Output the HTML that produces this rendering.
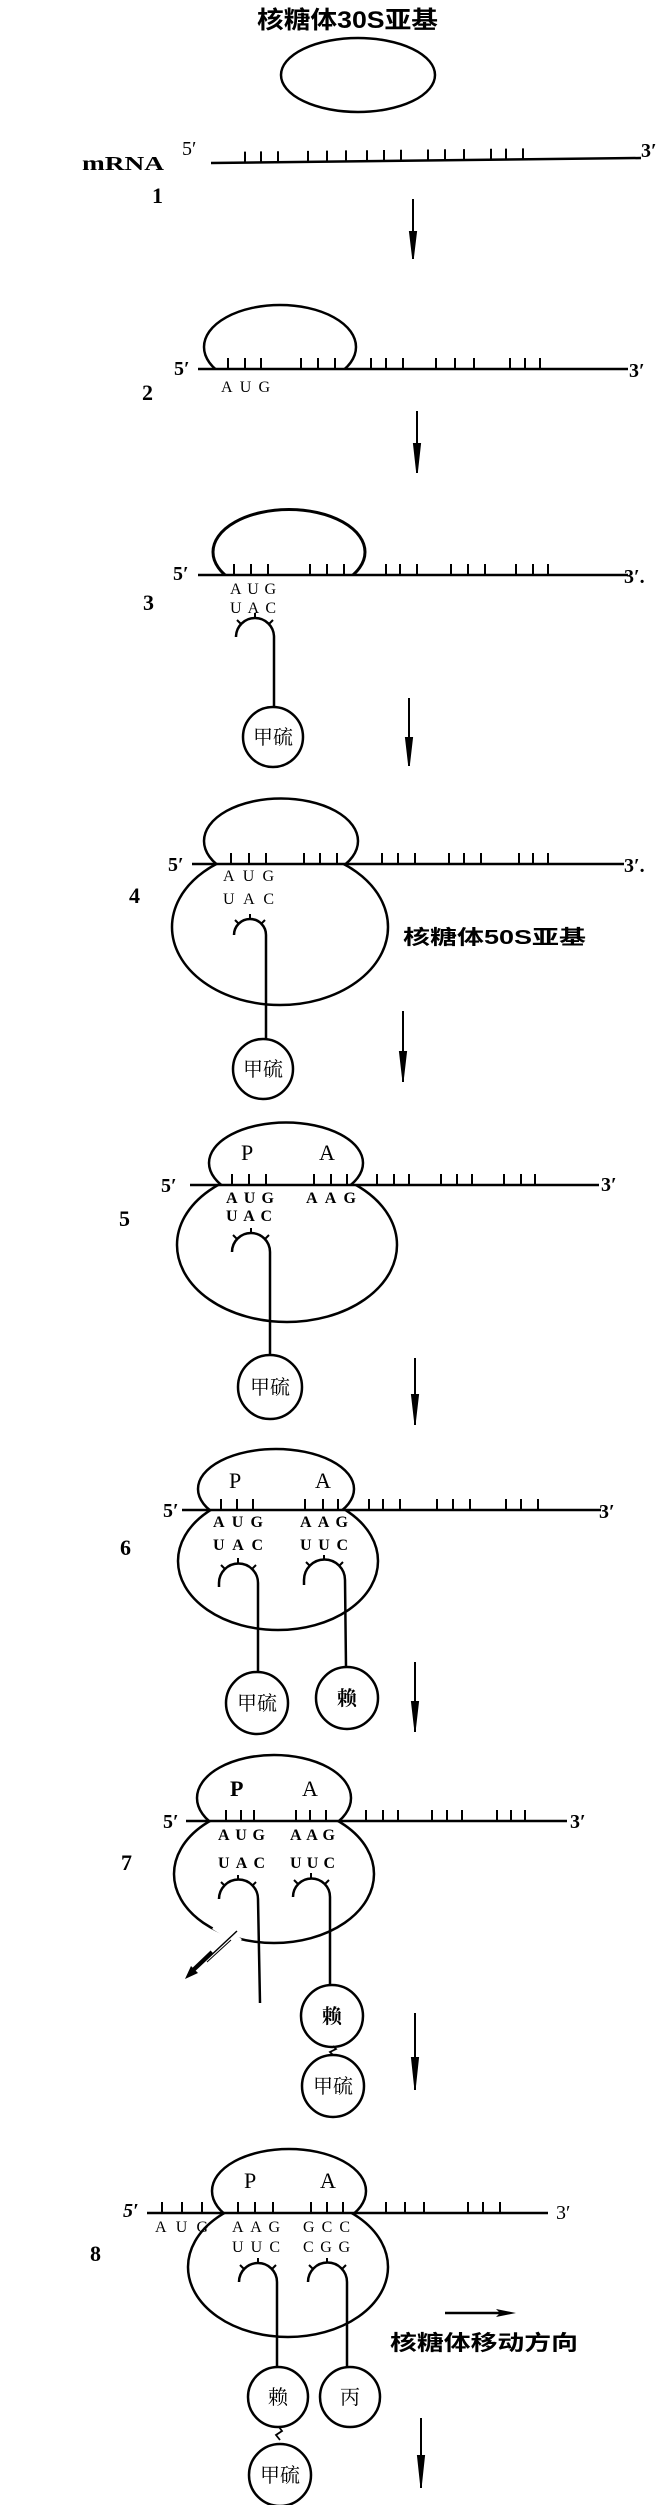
<!DOCTYPE html>
<html><head><meta charset="utf-8"><style>
html,body{margin:0;padding:0;background:#fff}
svg{display:block}
text{font-family:"Liberation Serif","Noto Serif CJK SC",serif;fill:#000}
.b{font-weight:bold}
.cj{font-family:"Liberation Sans","Noto Sans CJK SC",sans-serif;font-weight:bold}
.cd{font-size:16px}
.pa{font-size:22px}
.num{font-size:22px;font-weight:bold}
.pr{font-size:20px;font-weight:bold}
.ci{font-family:"Liberation Serif","Noto Serif CJK SC",serif;font-size:20px}
</style></head><body>
<svg width="661" height="2505" viewBox="0 0 661 2505" xmlns="http://www.w3.org/2000/svg">
<defs>
<clipPath id="a2"><rect x="0" y="0" width="661" height="369"/></clipPath>
<clipPath id="a3"><rect x="0" y="400" width="661" height="175"/></clipPath>
<clipPath id="a4"><rect x="0" y="700" width="661" height="164"/></clipPath>
<clipPath id="b4"><rect x="0" y="864" width="661" height="200"/></clipPath>
<clipPath id="a5"><rect x="0" y="1100" width="661" height="85"/></clipPath>
<clipPath id="b5"><rect x="0" y="1185" width="661" height="200"/></clipPath>
<clipPath id="a6"><rect x="0" y="1400" width="661" height="110"/></clipPath>
<clipPath id="b6"><rect x="0" y="1510" width="661" height="200"/></clipPath>
<clipPath id="a7"><rect x="0" y="1700" width="661" height="121"/></clipPath>
<clipPath id="b7"><rect x="0" y="1821" width="661" height="200"/></clipPath>
<clipPath id="a8"><rect x="0" y="2100" width="661" height="113"/></clipPath>
<clipPath id="b8"><rect x="0" y="2213" width="661" height="200"/></clipPath>
</defs>
<g fill="none" stroke="#000" stroke-width="2.5">
<ellipse cx="358" cy="75" rx="77" ry="37"/>
<path d="M211 163 L641 158"/>
<path stroke-width="2" d="M245 162.6v-11M261 162.4v-11M278 162.2v-11M308 161.9v-11M327 161.6v-11M346 161.4v-11M367 161.2v-11M384 161v-11M401 160.8v-11M428 160.5v-11M445 160.3v-11M464 160.1v-11M491 159.7v-11M506 159.6v-11M523 159.4v-11"/>
<ellipse cx="280" cy="347" rx="76" ry="42" clip-path="url(#a2)"/>
<path d="M198 369 H628"/>
<path stroke-width="2" d="M228 369v-11M245 369v-11M261 369v-11M301 369v-11M318 369v-11M335 369v-11M371 369v-11M386 369v-11M403 369v-11M436 369v-11M455 369v-11M474 369v-11M510 369v-11M525 369v-11M540 369v-11"/>
<ellipse cx="289" cy="552" rx="76" ry="42.5" clip-path="url(#a3)" stroke-width="3"/>
<path d="M198 575 H628"/>
<path stroke-width="2" d="M234 575v-11M251 575v-11M268 575v-11M310 575v-11M327 575v-11M344 575v-11M386 575v-11M400 575v-11M417 575v-11M451 575v-11M468 575v-11M485 575v-11M516 575v-11M533 575v-11M548 575v-11"/>
<path d="M236 637 A19 19 0 0 1 274 637 V707"/>
<path stroke-width="2" d="M241 624 l-4 -4 M255 618 v-5 M269 624 l4 -4"/>
<circle cx="273" cy="737" r="30"/>
<ellipse cx="281" cy="841" rx="77" ry="42.5" clip-path="url(#a4)"/>
<ellipse cx="280" cy="927" rx="108" ry="78" clip-path="url(#b4)"/>
<path d="M192 864 H624"/>
<path stroke-width="2" d="M231 864v-11M249 864v-11M266 864v-11M304 864v-11M320 864v-11M337 864v-11M382 864v-11M398 864v-11M415 864v-11M449 864v-11M464 864v-11M481 864v-11M519 864v-11M533 864v-11M548 864v-11"/>
<path d="M234 935 A16 16 0 0 1 266 935 V1039"/>
<path stroke-width="2" d="M239 924 l-4 -4 M250 919 v-5 M261 924 l4 -4"/>
<circle cx="263" cy="1069" r="30"/>
<ellipse cx="286" cy="1163" rx="77" ry="40.5" clip-path="url(#a5)"/>
<ellipse cx="287" cy="1245" rx="110" ry="77" clip-path="url(#b5)"/>
<path d="M190 1185 H599"/>
<path stroke-width="2" d="M232 1185v-11M249 1185v-11M266 1185v-11M314 1185v-11M331 1185v-11M347 1185v-11M377 1185v-11M394 1185v-11M409 1185v-11M441 1185v-11M457 1185v-11M472 1185v-11M504 1185v-11M521 1185v-11M535 1185v-11"/>
<path d="M232 1252 A19 19 0 0 1 270 1252 V1355"/>
<path stroke-width="2" d="M237 1239 l-4 -4 M251 1233 v-5 M265 1239 l4 -4"/>
<circle cx="270" cy="1387" r="32"/>
<ellipse cx="276" cy="1489" rx="78" ry="40" clip-path="url(#a6)"/>
<ellipse cx="278" cy="1561" rx="100" ry="69" clip-path="url(#b6)"/>
<path d="M182 1510 H601"/>
<path stroke-width="2" d="M221 1510v-11M237 1510v-11M253 1510v-11M305 1510v-11M323 1510v-11M338 1510v-11M369 1510v-11M383 1510v-11M400 1510v-11M437 1510v-11M453 1510v-11M470 1510v-11M506 1510v-11M521 1510v-11M538 1510v-11"/>
<path d="M219 1587 V1583 A19.5 19.5 0 0 1 258 1583 V1672"/>
<path stroke-width="2" d="M225 1569 l-4 -4 M238 1563 v-5 M252 1569 l4 -4"/>
<path d="M304 1585 V1580 A20.5 20.5 0 0 1 345 1580 L346 1667"/>
<path stroke-width="2" d="M310 1566 l-4 -4 M324 1560 v-5 M339 1566 l4 -4"/>
<circle cx="257" cy="1703" r="31"/>
<circle cx="347" cy="1698" r="31"/>
<ellipse cx="274" cy="1798" rx="77" ry="43" clip-path="url(#a7)"/>
<ellipse cx="274" cy="1874" rx="100" ry="69" clip-path="url(#b7)"/>
<path d="M186 1821 H567"/>
<path stroke-width="2" d="M226 1821v-11M241 1821v-11M254 1821v-11M296 1821v-11M310 1821v-11M326 1821v-11M366 1821v-11M383 1821v-11M398 1821v-11M432 1821v-11M447 1821v-11M462 1821v-11M497 1821v-11M511 1821v-11M525 1821v-11"/>
<path d="M219 1898 V1899 A19.5 19.5 0 0 1 258 1899 L260 2003"/>
<path stroke-width="2" d="M225 1886 l-4 -4 M238 1880 v-5 M252 1886 l4 -4"/>
<path d="M293 1897 A18.5 18.5 0 0 1 330 1897 V1985"/>
<path stroke-width="2" d="M298 1884 l-4 -4 M311 1878 v-5 M325 1884 l4 -4"/>
<circle cx="332" cy="2016" r="31"/>
<path stroke-width="1.8" d="M333 2046 l3 3 l-6 3 l3 3"/>
<circle cx="333" cy="2086" r="31"/>
<ellipse cx="289" cy="2191" rx="77" ry="42" clip-path="url(#a8)"/>
<ellipse cx="288" cy="2267" rx="100" ry="70" clip-path="url(#b8)"/>
<path d="M147 2213 H548"/>
<path stroke-width="2" d="M162 2213v-11M182 2213v-11M202 2213v-11M238 2213v-11M255 2213v-11M273 2213v-11M311 2213v-11M327 2213v-11M343 2213v-11M386 2213v-11M405 2213v-11M424 2213v-11M468 2213v-11M483 2213v-11M500 2213v-11"/>
<path d="M239 2282 A19 19 0 0 1 277 2282 V2367"/>
<path stroke-width="2" d="M244 2269 l-4 -4 M258 2263 v-5 M272 2269 l4 -4"/>
<path d="M308 2282 A19.5 19.5 0 0 1 347 2282 V2367"/>
<path stroke-width="2" d="M313 2269 l-4 -4 M327 2263 v-5 M342 2269 l4 -4"/>
<circle cx="278" cy="2397" r="30"/>
<circle cx="350" cy="2397" r="30"/>
<path stroke-width="1.8" d="M279 2427 l3 4 l-6 4 l4 5"/>
<circle cx="280" cy="2475" r="31"/>
<path d="M445 2313 H505"/>
</g>
<path d="M214 1926 L240 1942" stroke="#fff" stroke-width="7"/>
<path d="M237 1931 L190 1975" stroke="#000" stroke-width="1.5"/>
<path d="M231 1940 L207 1962" stroke="#000" stroke-width="1"/>
<path d="M212 1952 L190 1973" stroke="#000" stroke-width="4"/>
<polygon points="185,1979 191,1966 198,1973" fill="#000"/>
<polygon points="516,2313 496,2309 500,2313 496,2317" fill="#000"/>
<g stroke="#000" stroke-width="2" fill="#000">
<path d="M413 199 V259"/><polygon points="410,232 416,232 413,257"/>
<path d="M417 411 V473"/><polygon points="414,444 420,444 417,471"/>
<path d="M409 698 V766"/><polygon points="406,738 412,738 409,764"/>
<path d="M403 1011 V1082"/><polygon points="400,1052 406,1052 403,1078"/>
<path d="M415 1358 V1425"/><polygon points="412,1395 418,1395 415,1421"/>
<path d="M415 1662 V1732"/><polygon points="412,1702 418,1702 415,1728"/>
<path d="M415 2013 V2090"/><polygon points="412,2058 418,2058 415,2086"/>
<path d="M421 2418 V2488"/><polygon points="418,2456 424,2456 421,2484"/>
</g>
<text x="257" y="28" class="cj" font-size="24" textLength="181" lengthAdjust="spacingAndGlyphs">核糖体30S亚基</text>
<text x="82" y="170" class="b" font-size="20" textLength="82" lengthAdjust="spacingAndGlyphs">mRNA</text>
<text x="182" y="155" font-size="20">5′</text>
<text x="641" y="157" class="pr">3′</text>
<text x="152" y="203" class="num">1</text>
<text x="174" y="375" class="pr">5′</text>
<text x="629" y="377" class="pr">3′</text>
<text x="221" y="392" class="cd" textLength="49">AUG</text>
<text x="142" y="400" class="num">2</text>
<text x="173" y="580" class="pr">5′</text>
<text x="624" y="583" class="pr">3′.</text>
<text x="230" y="594" class="cd" textLength="46">AUG</text>
<text x="230" y="613" class="cd" textLength="46">UAC</text>
<text x="143" y="610" class="num">3</text>
<text x="253" y="744" class="ci">甲硫</text>
<text x="168" y="871" class="pr">5′</text>
<text x="624" y="872" class="pr">3′.</text>
<text x="223" y="881" class="cd" textLength="51">AUG</text>
<text x="223" y="904" class="cd" textLength="51">UAC</text>
<text x="129" y="903" class="num">4</text>
<text x="403" y="944" class="cj" font-size="20" textLength="183" lengthAdjust="spacingAndGlyphs">核糖体50S亚基</text>
<text x="243" y="1076" class="ci">甲硫</text>
<text x="241" y="1160" class="pa">P</text>
<text x="319" y="1160" class="pa">A</text>
<text x="161" y="1192" class="pr">5′</text>
<text x="601" y="1191" class="pr">3′</text>
<text x="226" y="1203" class="cd b" textLength="48">AUG</text>
<text x="306" y="1203" class="cd b" textLength="50">AAG</text>
<text x="226" y="1221" class="cd b" textLength="46">UAC</text>
<text x="119" y="1226" class="num">5</text>
<text x="250" y="1394" class="ci">甲硫</text>
<text x="229" y="1488" class="pa">P</text>
<text x="315" y="1488" class="pa">A</text>
<text x="163" y="1517" class="pr">5′</text>
<text x="599" y="1518" class="pr">3′</text>
<text x="213" y="1527" class="cd b" textLength="50">AUG</text>
<text x="300" y="1527" class="cd b" textLength="48">AAG</text>
<text x="213" y="1550" class="cd b" textLength="50">UAC</text>
<text x="300" y="1550" class="cd b" textLength="48">UUC</text>
<text x="120" y="1555" class="num">6</text>
<text x="237" y="1710" class="ci">甲硫</text>
<text x="337" y="1705" class="ci b">赖</text>
<text x="230" y="1796" class="pa b">P</text>
<text x="302" y="1796" class="pa">A</text>
<text x="163" y="1828" class="pr">5′</text>
<text x="570" y="1828" class="pr">3′</text>
<text x="218" y="1840" class="cd b" textLength="47">AUG</text>
<text x="290" y="1840" class="cd b" textLength="45">AAG</text>
<text x="218" y="1868" class="cd b" textLength="47">UAC</text>
<text x="290" y="1868" class="cd b" textLength="45">UUC</text>
<text x="121" y="1870" class="num">7</text>
<text x="322" y="2023" class="ci b">赖</text>
<text x="313" y="2093" class="ci">甲硫</text>
<text x="244" y="2188" class="pa">P</text>
<text x="320" y="2188" class="pa">A</text>
<text x="123" y="2217" class="pr" font-style="italic">5′</text>
<text x="556" y="2219" font-size="20">3′</text>
<text x="155" y="2232" class="cd" textLength="53">AUG</text>
<text x="232" y="2232" class="cd" textLength="48">AAG</text>
<text x="303" y="2232" class="cd" textLength="47">GCC</text>
<text x="232" y="2252" class="cd" textLength="48">UUC</text>
<text x="303" y="2252" class="cd" textLength="47">CGG</text>
<text x="90" y="2261" class="num">8</text>
<text x="390" y="2350" class="cj" font-size="21" textLength="188" lengthAdjust="spacingAndGlyphs">核糖体移动方向</text>
<text x="268" y="2404" class="ci">赖</text>
<text x="340" y="2404" class="ci">丙</text>
<text x="260" y="2482" class="ci">甲硫</text>
</svg>
</body></html>
